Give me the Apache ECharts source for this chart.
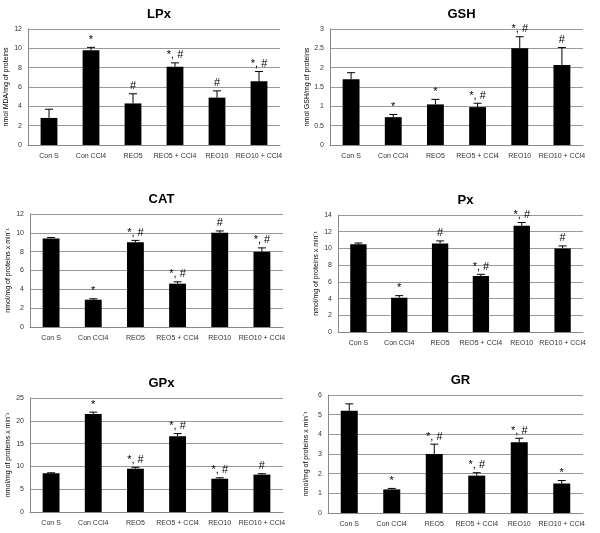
<!DOCTYPE html>
<html>
<head>
<meta charset="utf-8">
<script src="https://cdn.jsdelivr.net/npm/echarts@6/dist/echarts.min.js"></script>
</head>
<body style="margin:0;background:#fff">
<div id="chart" style="width:600px;height:533px;"></div>
<script>
var groups = ['Con S', 'Con CCl4', 'REO5', 'REO5 + CCl4', 'REO10', 'REO10 + CCl4'];
var titles = ['LPx', 'GSH', 'CAT', 'Px', 'GPx', 'GR'];
var yNames = ['nmol MDA/mg of proteins', 'nmol GSH/mg of proteins',
    'nmol/mg of proteins x min\u207B\u00B9', 'nmol/mg of proteins x min\u207B\u00B9',
    'nmol/mg of proteins x min\u207B\u00B9', 'nmol/mg of proteins x min\u207B\u00B9'];
var yMax = [12, 3, 12, 14, 25, 6];
var yStep = [2, 0.5, 2, 2, 5, 1];
var lpx = [2.8, 9.8, 4.3, 8.1, 4.9, 6.6];
var lpxErr = [0.9, 0.3, 1.0, 0.4, 0.7, 1.0];
var gsh = [1.7, 0.72, 1.05, 0.98, 2.5, 2.07];
var gshErr = [0.17, 0.07, 0.13, 0.1, 0.3, 0.45];
var cat = [9.4, 2.9, 9.0, 4.6, 10.0, 8.0];
var catErr = [0.1, 0.1, 0.2, 0.2, 0.2, 0.4];
var px = [10.5, 4.1, 10.6, 6.7, 12.7, 10.0];
var pxErr = [0.15, 0.25, 0.3, 0.2, 0.4, 0.3];
var gpx = [8.5, 21.5, 9.5, 16.6, 7.3, 8.2];
var gpxErr = [0.1, 0.4, 0.3, 0.6, 0.2, 0.2];
var gr = [5.2, 1.2, 3.0, 1.9, 3.6, 1.5];
var grErr = [0.35, 0.05, 0.5, 0.15, 0.2, 0.15];
var marks = [
    ['', '*', '#', '*, #', '#', '*, #'],
    ['', '*', '*', '*, #', '*, #', '#'],
    ['', '*', '*, #', '*, #', '#', '*, #'],
    ['', '*', '#', '*, #', '*, #', '#'],
    ['', '*', '*, #', '*, #', '*, #', '#'],
    ['', '*', '*, #', '*, #', '*, #', '*']
];
var values = [lpx, gsh, cat, px, gpx, gr];
var errors = [lpxErr, gshErr, catErr, pxErr, gpxErr, grErr];

// panel boxes [left, top, width, height]
var boxes = [
    [28, 29, 252, 116], [330, 29, 253, 116],
    [30, 214, 253, 113], [338, 215, 245, 117],
    [30, 398, 253, 114], [328, 395, 255, 118]
];

var grid = [], xAxis = [], yAxis = [], series = [], title = [];
for (var i = 0; i < 6; i++) {
    var b = boxes[i];
    grid.push({ left: b[0], top: b[1], width: b[2], height: b[3] });
    title.push({
        text: titles[i], left: b[0] + b[2] / 2, top: b[1] - 26, textAlign: 'center',
        textStyle: { fontSize: 13, fontWeight: 'bold', color: '#000', fontFamily: 'Arial, Liberation Sans' }
    });
    xAxis.push({
        type: 'category', gridIndex: i, data: groups,
        axisLine: { lineStyle: { color: '#888' } }, axisTick: { show: false },
        axisLabel: { fontSize: 7, color: '#333', interval: 0, margin: 8 }
    });
    yAxis.push({
        type: 'value', gridIndex: i, min: 0, max: yMax[i], interval: yStep[i],
        name: yNames[i], nameLocation: 'middle', nameGap: 18,
        nameTextStyle: { fontSize: 7, color: '#000' },
        axisLine: { show: true, lineStyle: { color: '#888' } }, axisTick: { show: false },
        axisLabel: { fontSize: 7, color: '#333', margin: 6 },
        splitLine: { lineStyle: { color: '#999' } }
    });
    series.push({
        type: 'bar', xAxisIndex: i, yAxisIndex: i, data: values[i],
        barWidth: '40%', itemStyle: { color: '#000' }
    });
    var errData = values[i].map(function (v, j) { return [j, v, errors[i][j], marks[i][j]]; });
    series.push({
        type: 'custom', xAxisIndex: i, yAxisIndex: i, data: errData, z: 5,
        renderItem: function (params, api) {
            var x = api.value(0), v = api.value(1), e = api.value(2), m = api.value(3);
            var p0 = api.coord([x, v]);
            var p1 = api.coord([x, v + e]);
            return {
                type: 'group', children: [
                    { type: 'line', shape: { x1: p0[0], y1: p0[1], x2: p1[0], y2: p1[1] }, style: { stroke: '#000', lineWidth: 1 } },
                    { type: 'line', shape: { x1: p1[0] - 4, y1: p1[1], x2: p1[0] + 4, y2: p1[1] }, style: { stroke: '#000', lineWidth: 1 } },
                    { type: 'text', x: p1[0], y: p1[1] - 2, style: { text: m, fill: '#000', fontSize: 11, align: 'center', verticalAlign: 'bottom' } }
                ]
            };
        }
    });
}

var chart = echarts.init(document.getElementById('chart'));
chart.setOption({
    animation: false,
    backgroundColor: '#fff',
    title: title,
    grid: grid,
    xAxis: xAxis,
    yAxis: yAxis,
    series: series
});
</script>
</body>
</html>
